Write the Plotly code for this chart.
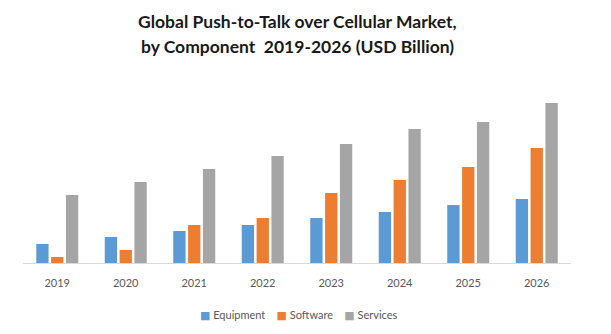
import plotly.graph_objects as go

years = ["2019", "2020", "2021", "2022", "2023", "2024", "2025", "2026"]
equipment = [19, 26, 32, 38, 45, 51, 58, 64]
software = [6, 13, 38, 45, 70, 83, 96, 115]
services = [68, 81, 94, 107, 119, 134, 141, 160]

series = [
    ("Equipment", equipment, "#5b9bd5"),
    ("Software", software, "#ed7d31"),
    ("Services", services, "#a5a5a5"),
]

W, H = 611, 334
ML, MR, MT, MB = 23, 40, 93, 71
plot_h = H - MT - MB
plot_w = W - ML - MR

def py(pix_y):
    return (H - MB - pix_y) / plot_h

def px(pix_x):
    return (pix_x - ML) / plot_w

fig = go.Figure()
for name, vals, color in series:
    fig.add_trace(go.Bar(x=years, y=vals, name=name, marker_color=color,
                         marker_line_width=0))

legend_text = "    ".join(
    f'<span style="color:{c};font-family:DejaVu Sans">■</span> {n}' for n, _, c in series
)

fig.update_layout(
    width=W, height=H,
    margin=dict(l=ML, r=MR, t=MT, b=MB, autoexpand=False),
    paper_bgcolor="white", plot_bgcolor="white",
    barmode="group", bargap=0.35, bargroupgap=0.17,
    font=dict(family="Lato", color="#595959"),
    showlegend=False,
    xaxis=dict(showgrid=False, showline=True, linecolor="#d9d9d9", linewidth=1,
               ticks="outside", ticklen=10, tickcolor="rgba(0,0,0,0)",
               tickfont=dict(size=11, color="#595959"), fixedrange=True),
    yaxis=dict(visible=False, range=[0, 170], fixedrange=True),
    annotations=[
        dict(text="<b>Global Push-to-Talk over Cellular Market,</b>", x=px(297.5), y=py(22),
             xref="paper", yref="paper", showarrow=False, xanchor="center", yanchor="middle",
             font=dict(size=17.5, color="#1a1a1a")),
        dict(text="<b>by Component  2019-2026 (USD Billion)</b>", x=px(297), y=py(46),
             xref="paper", yref="paper", showarrow=False, xanchor="center", yanchor="middle",
             font=dict(size=17.5, color="#1a1a1a")),
        dict(text=legend_text, x=px(298.5), y=py(315),
             xref="paper", yref="paper", showarrow=False, xanchor="center", yanchor="middle",
             font=dict(size=11, color="#595959")),
    ],
)

fig.write_html("out.html")
